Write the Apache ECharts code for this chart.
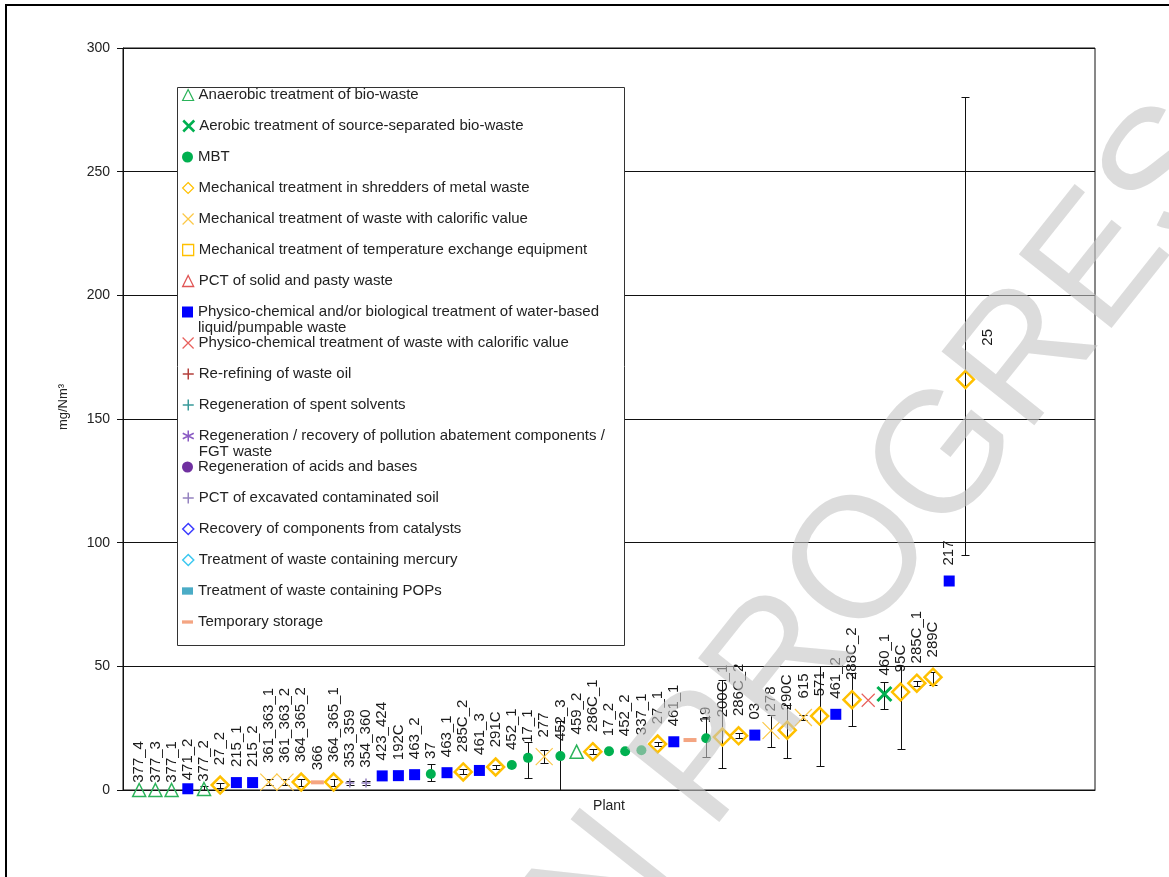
<!DOCTYPE html>
<html>
<head>
<meta charset="utf-8">
<script src="https://cdn.jsdelivr.net/npm/echarts@6/dist/echarts.min.js"></script>
<style>
  html, body { margin: 0; padding: 0; background: #fff; }
  #chart { width: 1169px; height: 877px; }
</style>
</head>
<body>
<div id="chart"></div>
<script>
// Plants, sorted by concentration (position on the x axis = index + 1)
const plants = ['377_4','377_3','377_1','471_2','377_2','27_2','215_1','215_2','361_363_1','361_363_2',
  '364_365_2','366','364_365_1','353_359','354_360','423_424','192C','463_2','37','463_1',
  '285C_2','461_3','291C','452_1','17_1','277','452_3','459_2','286C_1','17_2',
  '452_2','337_1','27_1','461_1','','19','200C_1','286C_2','03','278',
  '290C','615','571','461_2','288C_2','','460_1','95C','285C_1','289C',
  '217','25'];

// Average emission level, mg/Nm3
const values = [0, 0, 0, 0.5, 0.4, 2, 3, 3, 3.2, 3.2,
  3.2, 3.1, 3.2, 2.8, 2.8, 5.7, 5.8, 6.2, 6.5, 7,
  7.3, 7.9, 9.3, 10.1, 13, 13.5, 13.7, 15.5, 15.5, 15.7,
  15.7, 16.1, 18.6, 19.5, 20.2, 20.9, 21.4, 21.9, 22.2, 24,
  24.2, 29.3, 29.9, 30.6, 36.5, 36.3, 38.8, 39.6, 43.2, 45.6,
  84.5, 166];

// Activity of each plant (key into the series list below)
const groups = ['ANA','ANA','ANA','PCW','ANA','SHR','PCW','PCW','CAL','CAL',
  'SHR','TMP','SHR','PSO','PSO','PCW','PCW','PCW','MBT','PCW',
  'SHR','PCW','SHR','MBT','MBT','CAL','MBT','ANA','SHR','MBT',
  'MBT','MBT','SHR','PCW','TMP','MBT','SHR','SHR','PCW','CAL',
  'SHR','CAL','SHR','PCW','SHR','PCC','AER','SHR','SHR','SHR',
  'PCW','SHR'];

// Min / max of the measured range (null = no range shown)
const errLow = [null, null, null, null, 0, 1, null, null, 2, 2,
  1.8, null, 1.8, 2, 2, null, null, null, 3.6, null,
  6.3, null, 8.3, null, 4.7, 10.8, 0, null, 14.5, null,
  null, null, 17.6, null, null, 13.2, 9, 20.9, null, 17.5,
  13, 28.3, 9.7, null, 25.9, null, 32.7, 16.6, 42.2, 42.5,
  null, 95];
const errHigh = [null, null, null, null, 1.5, 3, null, null, 4.4, 4.4,
  4.6, null, 4.6, 3.6, 3.6, null, null, null, 10.5, null,
  8.3, null, 10.3, null, 19.5, 16.1, 28, null, 16.5, null,
  null, null, 19.6, null, null, 29.6, 44.5, 22.9, null, 30.3,
  34.3, 30.3, 50, null, 47.5, null, 43.7, 50, 44.2, 47.8,
  null, 280];

const FONT = "'Liberation Sans', Arial, sans-serif";
const P_X = 'path://M0,0L10,10M10,0L0,10';
const P_PLUS = 'path://M5,0L5,10M0,5L10,5';
const P_STAR = 'path://M5,0L5,10M0,2.5L10,7.5M10,2.5L0,7.5';
const P_DASH = 'path://M0,0L10,0L10,3L0,3Z';
const CLEAR = 'rgba(0,0,0,0)';

// Marker style of every activity, in legend order
const seriesDefs = [
  { key: 'ANA', name: 'Anaerobic treatment of bio-waste', symbol: 'triangle', size: 13, stroke: '#2bb35a', bw: 1.5, lbw: 1.2 },
  { key: 'AER', name: 'Aerobic treatment of source-separated bio-waste', symbol: P_X, size: 14, stroke: '#00b050', bw: 3, lbw: 2.5 },
  { key: 'MBT', name: 'MBT', symbol: 'circle', size: 10, fill: '#00b050' },
  { key: 'SHR', name: 'Mechanical treatment in shredders of metal waste', symbol: 'diamond', size: 17, stroke: '#ffc000', bw: 2.5, lbw: 1.2 },
  { key: 'CAL', name: 'Mechanical treatment of waste with calorific value', symbol: P_X, size: 17, stroke: '#fcc847', bw: 1.2, lbw: 1.2 },
  { key: 'TEX', name: 'Mechanical treatment of temperature exchange equipment', symbol: 'rect', size: 11, stroke: '#ffc000', bw: 1.5, lbw: 1.3 },
  { key: 'PCS', name: 'PCT of solid and pasty waste', symbol: 'triangle', size: 12, stroke: '#e05555', bw: 1.5, lbw: 1.3 },
  { key: 'PCW', name: 'Physico-chemical and/or biological treatment of water-based liquid/pumpable waste', symbol: 'rect', size: 11, fill: '#0000ff' },
  { key: 'PCC', name: 'Physico-chemical treatment of waste with calorific value', symbol: P_X, size: 13, stroke: '#e8605c', bw: 1.2, lbw: 1.2 },
  { key: 'RRO', name: 'Re-refining of waste oil', symbol: P_PLUS, size: 11, stroke: '#b4403c', bw: 1.5, lbw: 1.5 },
  { key: 'RSS', name: 'Regeneration of spent solvents', symbol: P_PLUS, size: 11, stroke: '#3a9a9a', bw: 1.5, lbw: 1.5 },
  { key: 'RPA', name: 'Regeneration / recovery of pollution abatement components / FGT waste', symbol: P_STAR, size: 11, stroke: '#8b5cc4', bw: 1.5, lbw: 1.5 },
  { key: 'RAB', name: 'Regeneration of acids and bases', symbol: 'circle', size: 10, fill: '#7030a0' },
  { key: 'PSO', name: 'PCT of excavated contaminated soil', symbol: P_PLUS, size: 9, stroke: '#9583c0', bw: 1.5, lbw: 1.5 },
  { key: 'RCC', name: 'Recovery of components from catalysts', symbol: 'diamond', size: 12, stroke: '#3b3bff', bw: 1.5, lbw: 1.5 },
  { key: 'MER', name: 'Treatment of waste containing mercury', symbol: 'diamond', size: 12, stroke: '#3cc8f0', bw: 1.5, lbw: 1.5 },
  { key: 'POP', name: 'Treatment of waste containing POPs', symbol: P_DASH, size: [7, 4], fill: '#4bacc6', lsym: 'path://M0,0L6,0L6,4L0,4Z' },
  { key: 'TMP', name: 'Temporary storage', symbol: P_DASH, size: [13, 4], fill: '#f4a582' }
];

// Legend entries that run onto a second line; the leading empty line keeps
// the first text line level with the legend icon
const legendBreaks = {
  'Physico-chemical and/or biological treatment of water-based liquid/pumpable waste':
    '\nPhysico-chemical and/or biological treatment of water-based\nliquid/pumpable waste',
  'Regeneration / recovery of pollution abatement components / FGT waste':
    '\nRegeneration / recovery of pollution abatement components /\nFGT waste'
};

// Hand-placed point labels (offset is in the label's rotated frame: [up, right])
const labelNudge = {
  '377_4': [-10, 0], '377_3': [-10, 0], '377_1': [-10, 0], '471_2': [-7, 0], '377_2': [-10, 0],
  '25': [14, 22]
};

function styleOf(d) {
  return d.fill
    ? { color: d.fill, borderWidth: 0, opacity: 1 }
    : { color: CLEAR, borderColor: d.stroke, borderWidth: d.bw, opacity: 1 };
}

const scatterSeries = seriesDefs.map(d => {
  const data = [];
  plants.forEach((p, i) => {
    if (groups[i] !== d.key) return;
    const item = { value: [i + 1, values[i], p] };
    if (labelNudge[p]) item.label = { offset: labelNudge[p] };
    data.push(item);
  });
  return {
    type: 'scatter',
    name: d.name,
    symbol: d.symbol,
    symbolSize: d.size,
    symbolKeepAspect: false,
    itemStyle: styleOf(d),
    clip: false,
    z: 3,
    encode: { x: 0, y: 1 },
    label: {
      show: true,
      position: 'top',
      distance: 10,
      rotate: 90,
      align: 'left',
      verticalAlign: 'middle',
      fontFamily: FONT,
      fontSize: 15,
      color: '#1a1a1a',
      formatter: prm => prm.value[2]
    },
    emphasis: { disabled: true },
    data: data
  };
});

const errData = [];
plants.forEach((p, i) => {
  if (errLow[i] !== null) errData.push([i + 1, errLow[i], errHigh[i]]);
});

const errorSeries = {
  type: 'custom',
  name: 'range',
  z: 2,
  silent: true,
  encode: { x: 0, y: [1, 2] },
  data: errData,
  renderItem: (params, api) => {
    const x = api.value(0);
    const top = api.coord([x, api.value(2)]);
    const bot = api.coord([x, api.value(1)]);
    const cx = Math.round(top[0]) + 0.5;
    const y1 = Math.round(top[1]) + 0.5;
    const y2 = Math.round(bot[1]) + 0.5;
    const w = 4;
    const st = { stroke: '#111', lineWidth: 1 };
    return {
      type: 'group',
      children: [
        { type: 'line', shape: { x1: cx, y1: y1, x2: cx, y2: y2 }, style: st },
        { type: 'line', shape: { x1: cx - w, y1: y1, x2: cx + w, y2: y1 }, style: st },
        { type: 'line', shape: { x1: cx - w, y1: y2, x2: cx + w, y2: y2 }, style: st }
      ]
    };
  }
};

// One legend block per entry, stacked at a fixed row pitch
const ROW0 = 95, ROW_PITCH = 31;
const legends = seriesDefs.map((d, k) => {
  const twoLines = !!legendBreaks[d.name];
  const cy = ROW0 + ROW_PITCH * k;
  return {
    orient: 'vertical',
    left: 182,
    top: cy - (twoLines ? 24 : 8),
    padding: 0,
    itemWidth: 11, itemHeight: 11,
    symbolKeepAspect: true,
    selectedMode: false,
    z: 6,
    textStyle: { fontFamily: FONT, fontSize: 15, color: '#222', lineHeight: 16 },
    formatter: n => legendBreaks[n] || n,
    data: [{
      name: d.name,
      icon: d.lsym || d.symbol,
      itemStyle: d.fill
        ? { color: d.fill, borderWidth: 0, opacity: 1 }
        : { color: CLEAR, borderColor: d.stroke, borderWidth: d.lbw, opacity: 1 }
    }]
  };
});

const chart = echarts.init(document.getElementById('chart'), null, { renderer: 'canvas' });
chart.setOption({
  animation: false,
  backgroundColor: '#fff',
  textStyle: { fontFamily: FONT },
  grid: {
    left: 123, right: 74, top: 48, bottom: 87,
    show: true, borderColor: '#111', borderWidth: 1, backgroundColor: CLEAR
  },
  xAxis: {
    type: 'value', min: 0, max: 60,
    name: 'Plant', nameLocation: 'middle', nameGap: 9,
    nameTextStyle: { fontFamily: FONT, fontSize: 14, color: '#222' },
    axisLine: { show: true, lineStyle: { color: '#111' } },
    axisTick: { show: false }, axisLabel: { show: false }, splitLine: { show: false }
  },
  yAxis: {
    type: 'value', min: 0, max: 300, interval: 50,
    name: 'mg/Nm³', nameLocation: 'middle', nameGap: 53,
    nameTextStyle: { fontFamily: FONT, fontSize: 13, color: '#222', padding: [0, 0, 0, 24] },
    axisLine: { show: true, lineStyle: { color: '#111' } },
    axisTick: { show: true, inside: false, length: 6, lineStyle: { color: '#111' } },
    axisLabel: { fontFamily: FONT, fontSize: 14, color: '#222', margin: 13 },
    splitLine: { show: true, lineStyle: { color: '#111', width: 1 } }
  },
  legend: legends,
  graphic: [
    // outer frame
    { type: 'rect', z: 0, silent: true, shape: { x: 6, y: 5, width: 1300, height: 1000 },
      style: { fill: CLEAR, stroke: '#000', lineWidth: 2 } },
    // legend box
    { type: 'rect', z: 5, silent: true, shape: { x: 177.5, y: 87.5, width: 447, height: 558 },
      style: { fill: '#fff', stroke: '#333', lineWidth: 1 } },
    // draft watermark
    { type: 'text', z: 100, silent: true, x: 727, y: 736, rotation: 0.9,
      style: { text: 'WORK IN PROGRESS', font: "172px 'Liberation Sans', Arial, sans-serif",
        fill: 'rgba(196,196,196,0.6)', align: 'center', verticalAlign: 'middle' } }
  ],
  series: [errorSeries].concat(scatterSeries)
});
</script>
</body>
</html>
